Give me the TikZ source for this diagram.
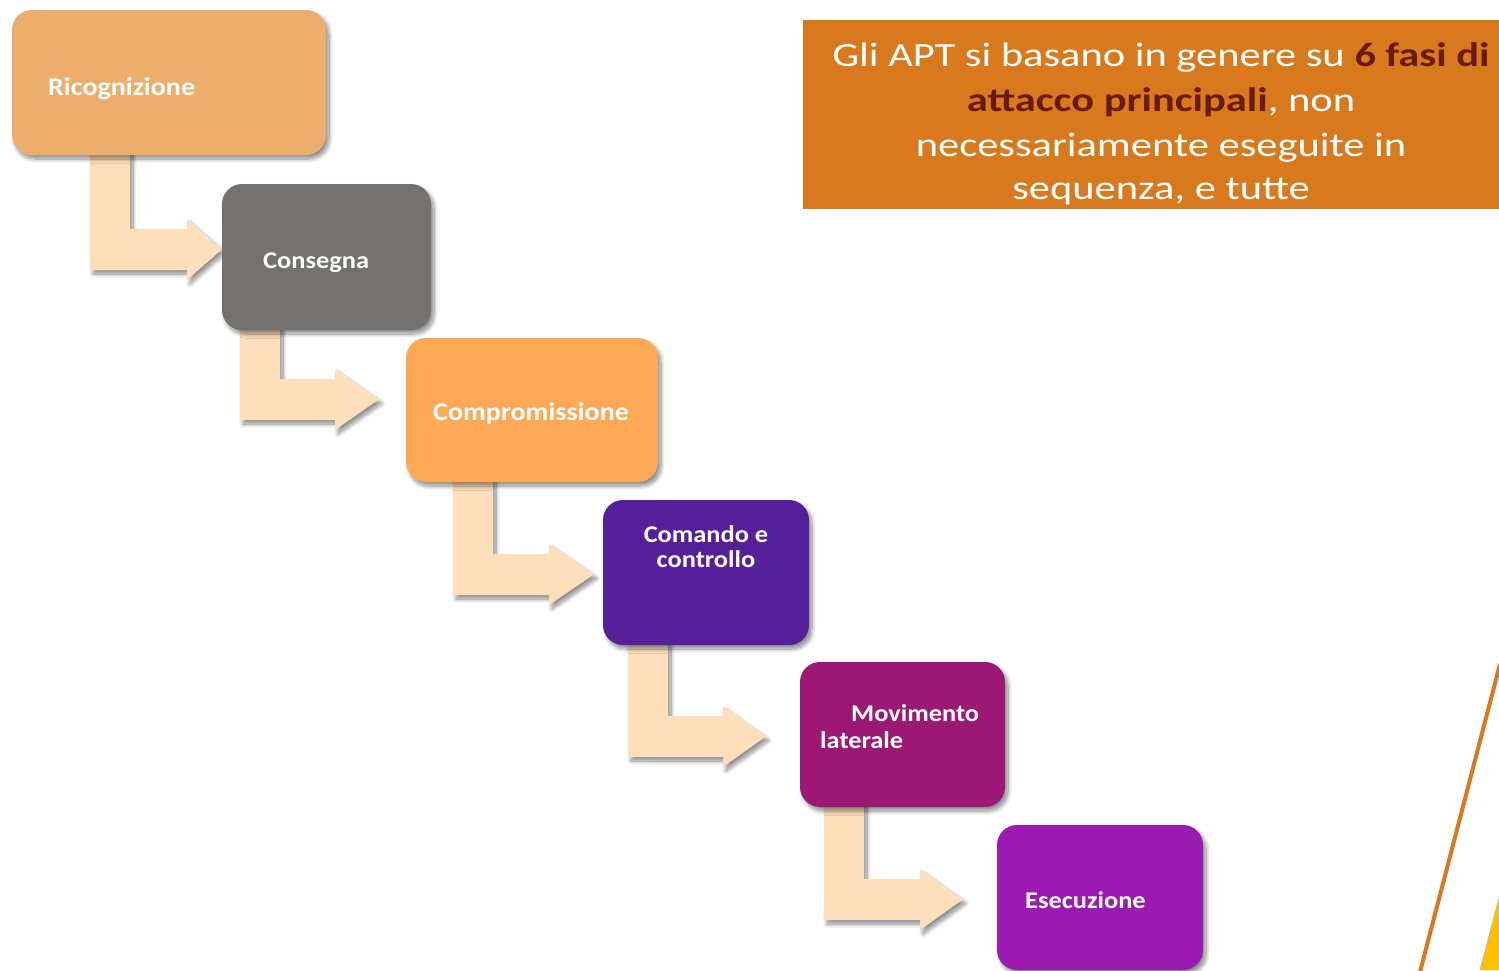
\documentclass[tikz,border=0pt]{standalone}
\usepackage{fontspec}
\setmainfont{Carlito}
\newfontfamily\boxfont[FakeStretch=1.1]{Carlito}
\newfontfamily\titlefont[FakeStretch=1.25]{Carlito}
\usetikzlibrary{calc,shadows.blur}
\pgfdeclarelayer{background}
\pgfsetlayers{background,main}
\definecolor{cRic}{HTML}{EDAE6D}
\definecolor{cCon}{HTML}{767171}
\definecolor{cCom}{HTML}{FDA957}
\definecolor{cCmd}{HTML}{56209B}
\definecolor{cMov}{HTML}{9B1874}
\definecolor{cEse}{HTML}{9B1AB1}
\definecolor{cArr}{HTML}{FDDFBB}
\definecolor{cTitle}{HTML}{D7791C}
\definecolor{cBold}{HTML}{6B1A0F}
\definecolor{cYel}{HTML}{FFC000}
\tikzset{
  softshadow/.style={blur shadow={shadow xshift=3pt, shadow yshift=-4pt,
    shadow blur radius=4pt, shadow blur steps=10, shadow opacity=45}},
  phase/.style={draw=none, rounded corners=20pt, inner sep=0pt, softshadow},
  arrowfill/.style={fill=cArr, softshadow},
  lbl/.style={text=white, inner sep=0pt, font=\boxfont\bfseries\fontsize{24}{26}\selectfont},
  lblbig/.style={text=white, inner sep=0pt, font=\boxfont\bfseries\fontsize{25.5}{26}\selectfont},
  ttl/.style={text=white, inner sep=0pt, font=\titlefont\fontsize{34}{44}\selectfont},
}
% #1 source node, #2 target node, #3 stem left x, #4 bar top y, #5 head base x, #6 gap before target
\newcommand\bentarrow[6]{%
  \fill[arrowfill] let \p1=(#1.south), \p2=(#2.west) in
    ($(#3pt,\y1)+(0,6pt)$) -- ($(#3pt+40pt,\y1)+(0,6pt)$) -- (#3pt+40pt,-#4pt) -- (#5pt,-#4pt)
    -- (#5pt,-#4pt+10pt) -- (\x2-#6pt,-#4pt-20.5pt) -- (#5pt,-#4pt-51pt)
    -- (#5pt,-#4pt-41pt) -- (#3pt,-#4pt-41pt) -- cycle;}
\begin{document}
\begin{tikzpicture}[x=1pt,y=-1pt]
\useasboundingbox (0,0) rectangle (1499,970);
% phase boxes
\node[phase, fill=cRic, minimum width=314pt, minimum height=145pt] (ric) at (169,82.5) {};
\node[phase, fill=cCon, minimum width=209pt, minimum height=146pt] (con) at (326.5,257) {};
\node[phase, fill=cCom, minimum width=252pt, minimum height=144pt] (com) at (532,410) {};
\node[phase, fill=cCmd, minimum width=206pt, minimum height=145pt] (cmd) at (706,572.5) {};
\node[phase, fill=cMov, minimum width=205pt, minimum height=145pt] (mov) at (902.5,734.5) {};
\node[phase, fill=cEse, minimum width=206pt, minimum height=145pt] (ese) at (1100,897.5) {};
% bent arrows, behind the boxes
\begin{pgfonlayer}{background}
\bentarrow{ric}{con}{90}{229}{187}{0}
\bentarrow{con}{com}{240}{379}{335}{27}
\bentarrow{com}{cmd}{453}{554}{549}{9}
\bentarrow{cmd}{mov}{628}{716}{723}{34}
\bentarrow{mov}{ese}{824}{879}{920}{34}
\end{pgfonlayer}
% labels
\node[lblbig, anchor=base west] (tR) at (48,95) {Ricognizione};
\node[lbl, anchor=base west] (tC) at (263,268) {Consegna};
\node[lblbig, anchor=base west] (tP) at (433,420) {Compromissione};
\node[lbl, anchor=base] (tK1) at (706,542) {Comando e};
\node[lbl, anchor=base] (tK2) at (706,567) {controllo};
\node[lbl, anchor=base west] (tM1) at (851,721) {Movimento};
\node[lbl, anchor=base west] (tM2) at (820,748) {laterale};
\node[lbl, anchor=base west] (tE) at (1025,908) {Esecuzione};
% title box
\fill[cTitle] (803,20) rectangle (1510,209);
\node[ttl, anchor=base] (l1) at (1161,66) {Gli APT si basano in genere su \textcolor{cBold}{\bfseries 6 fasi di}};
\node[ttl, anchor=base] (l2) at (1161,111) {\textcolor{cBold}{\bfseries attacco principali}, non};
\node[ttl, anchor=base] (l3) at (1161,156) {necessariamente eseguite in};
\node[ttl, anchor=base] (l4) at (1161,199) {sequenza, e tutte};
% decoration bottom right
\fill[cYel] (1499,898) -- (1480,970) -- (1505,970) -- (1505,898) -- cycle;
\draw[gray!60, line width=0.6pt] (1499,898) -- (1480,970);
\draw[cTitle, line width=4pt] (1500,664) -- (1420,972);
\end{tikzpicture}
\end{document}
